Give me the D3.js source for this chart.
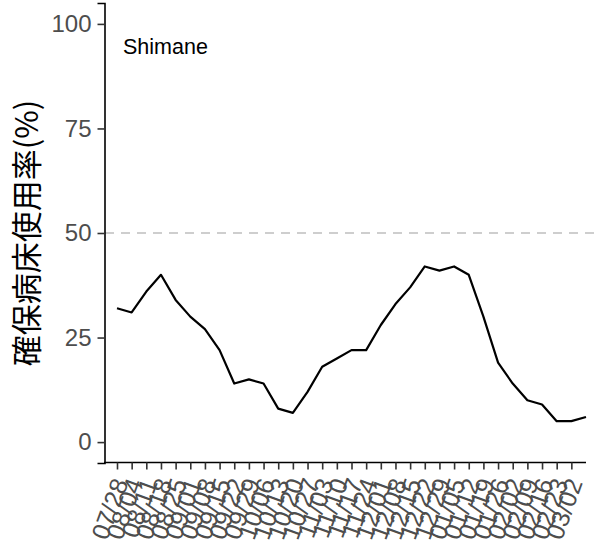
<!DOCTYPE html>
<html><head><meta charset="utf-8">
<script src="https://cdn.jsdelivr.net/npm/d3@7"></script>
<style>body{margin:0;background:#fff} svg{display:block}</style>
</head><body><svg id="c" width="596" height="549"></svg>
<script>
const categories = ["07/28","08/04","08/11","08/18","08/25","09/01","09/08","09/15","09/22","09/29","10/06","10/13","10/20","10/27","11/03","11/10","11/17","11/24","12/01","12/08","12/15","12/22","12/29","01/05","01/12","01/19","01/26","02/02","02/09","02/16","02/23","03/02","03/09"];
const values = [32,31,36,40,34,30,27,22,14,15,14,8,7,12,18,20,22,22,28,33,37,42,41,42,40,30,19,14,10,9,5,5,6];
const tickLabels = categories.slice(0, 32);
const yTicks = [0,25,50,75,100];
const refLine = 50;
const region = "Shimane";
const yTitle = "確保病床使用率(%)";

const svg = d3.select("#c");
const x = d3.scalePoint().domain(categories).range([117, 586]);
const y = d3.scaleLinear().domain([-5, 105]).range([463, 3]);

// reference line
svg.append("line").attr("x1", 105).attr("x2", 596)
  .attr("y1", y(refLine)).attr("y2", y(refLine))
  .attr("stroke", "#bebebe").attr("stroke-width", 1.6).attr("stroke-dasharray", "9,7");

// data line
svg.append("path").datum(values.map((v,i)=>[categories[i], v]))
  .attr("fill","none").attr("stroke","#000").attr("stroke-width",2.2)
  .attr("stroke-linejoin","round")
  .attr("d", d3.line().x(d=>x(d[0])).y(d=>y(d[1])));

// y axis
const ya = svg.append("g").attr("transform","translate(104.5,0)")
  .call(d3.axisLeft(y).tickValues(yTicks).tickSize(7).tickPadding(6));
ya.select(".domain").attr("stroke","#000").attr("stroke-width",1.6);
ya.selectAll(".tick line").attr("stroke","#333").attr("stroke-width",1.6);
ya.selectAll(".tick text").attr("fill","#4d4d4d").style("font-family","Liberation Sans, Arial, sans-serif").style("font-size","24px");

// x axis
const xa = svg.append("g").attr("transform","translate(0,462.5)")
  .call(d3.axisBottom(x).tickValues(tickLabels).tickSize(7).tickSizeOuter(0));
xa.select(".domain").attr("d", `M104,0H${x(categories[categories.length-1])}`).attr("stroke","#000").attr("stroke-width",1.6);
xa.selectAll(".tick line").attr("stroke","#333").attr("stroke-width",1.6);
xa.selectAll(".tick text")
  .attr("fill","#4d4d4d")
  .style("font-family","Liberation Sans, Arial, sans-serif").style("font-size","25px")
  .attr("text-anchor","end")
  .attr("y", 0).attr("dy","0.35em")
  .attr("transform","translate(3,17) rotate(-70)");

// region label
svg.append("text").attr("x",123).attr("y",54).text(region)
  .style("font-family","Liberation Sans, Arial, sans-serif").style("font-size","21.5px").attr("fill","#000");

// y title
svg.append("text").attr("transform",`translate(38,${y(50)}) rotate(-90)`)
  .attr("text-anchor","middle").text(yTitle)
  .style("font-family","Noto Sans CJK JP, sans-serif").style("font-size","31px").attr("fill","#000");
</script></body></html>
